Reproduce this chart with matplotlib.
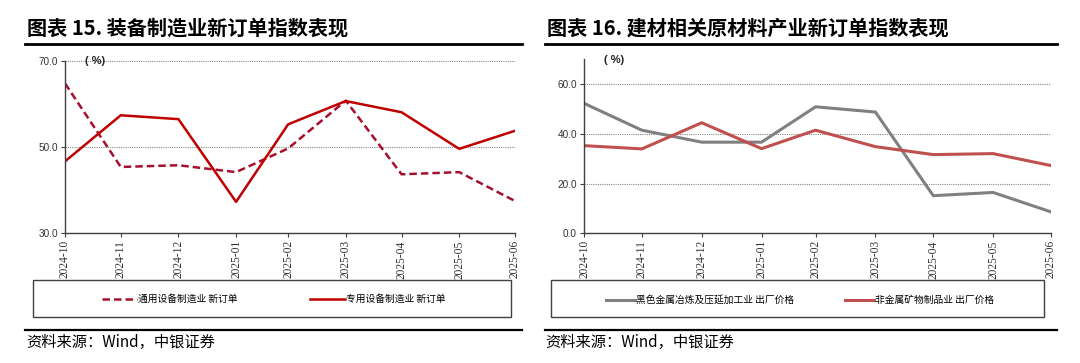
import numpy as np
import pandas as pd
import matplotlib
matplotlib.use("Agg")
import matplotlib.pyplot as plt
import matplotlib.dates as mdates
from matplotlib.lines import Line2D
from matplotlib.patches import Rectangle

plt.rcParams['font.family'] = ['Noto Sans CJK SC', 'DejaVu Sans']

# 月末日期
months = pd.date_range("2024-10-01", periods=9, freq="ME")

# 图表15 数据
general_equip = [64.8, 45.4, 45.8, 44.2, 49.7, 60.8, 43.7, 44.2, 37.5]   # 通用设备制造业 新订单
special_equip = [46.7, 57.4, 56.5, 37.3, 55.3, 60.7, 58.1, 49.6, 53.8]   # 专用设备制造业 新订单

# 图表16 数据
ferrous_price = [52.2, 41.4, 36.6, 36.6, 50.8, 48.7, 15.1, 16.4, 8.6]    # 黑色金属冶炼及压延加工业 出厂价格
nonmetal_price = [35.2, 33.9, 44.4, 34.0, 41.4, 34.8, 31.6, 32.0, 27.2]  # 非金属矿物制品业 出厂价格

title_left = "图表 15. 装备制造业新订单指数表现"
title_right = "图表 16. 建材相关原材料产业新订单指数表现"
source_text = "资料来源：Wind，中银证券"

W, H = 1080, 363
fig = plt.figure(figsize=(W / 100, H / 100), dpi=100)

def fx(px):
    return px / W

def fy(py):
    return (H - py) / H

spine_c = "#404040"

def style_axes(ax, yticks, ylim):
    ax.set_xlim(months[0], months[-1])
    ax.set_ylim(*ylim)
    ax.set_yticks(yticks)
    ax.set_yticklabels([f"{v:.1f}" for v in yticks], fontfamily="Liberation Sans", fontsize=7.2, color="#333333")
    ax.set_xticks(months)
    ax.xaxis.set_major_formatter(mdates.DateFormatter("%Y-%m"))
    for lab in ax.get_xticklabels():
        lab.set_rotation(90)
        lab.set_fontfamily("Liberation Serif")
        lab.set_fontsize(8.3)
        lab.set_color("#333333")
    ax.spines["top"].set_visible(False)
    ax.spines["right"].set_visible(False)
    for s in ("left", "bottom"):
        ax.spines[s].set_color(spine_c)
        ax.spines[s].set_linewidth(1.0)
    ax.tick_params(axis="both", direction="out", length=3, width=0.8, color=spine_c, pad=2)
    ax.yaxis.grid(True, linestyle=(0, (1, 1)), color="#888888", linewidth=0.8)
    ax.set_axisbelow(True)

# 左图
ax1 = fig.add_axes([fx(65), fy(233.3), fx(515) - fx(65), fy(61) - fy(233.3)])
l1, = ax1.plot(months, general_equip, color="#A5102C", lw=1.8, linestyle=(0, (3, 1.6)))
l2, = ax1.plot(months, special_equip, color="#C00000", lw=1.8)
style_axes(ax1, [30, 50, 70], (30, 70))
ax1.text(0.067, 1.0, "( %)", transform=ax1.transAxes, ha="center", va="center",
         fontfamily="Liberation Sans", fontsize=8, fontweight="bold", color="#222222")

# 右图
ax2 = fig.add_axes([fx(584), fy(233.3), fx(1051) - fx(584), fy(59) - fy(233.3)])
l3, = ax2.plot(months, ferrous_price, color="#808080", lw=2.2)
l4, = ax2.plot(months, nonmetal_price, color="#C0504D", lw=2.2)
style_axes(ax2, [0, 20, 40, 60], (0, 70))
ax2.text(0.064, 0.995, "( %)", transform=ax2.transAxes, ha="center", va="center",
         fontfamily="Liberation Sans", fontsize=8, fontweight="bold", color="#222222")

# 标题
fig.text(fx(27), fy(28), title_left, fontsize=14.5, fontweight="bold", va="center", ha="left")
fig.text(fx(547), fy(28), title_right, fontsize=14.5, fontweight="bold", va="center", ha="left")
for x0, x1 in ((25, 522), (545, 1057)):
    fig.add_artist(Line2D([fx(x0), fx(x1)], [fy(44), fy(44)], color="black", lw=2))
    fig.add_artist(Line2D([fx(x0), fx(x1)], [fy(329.5), fy(329.5)], color="black", lw=1.6))

# 图例框
for x0, x1 in ((33, 511), (551, 1044)):
    fig.add_artist(Rectangle((fx(x0), fy(317)), fx(x1) - fx(x0), fy(279.5) - fy(317),
                             transform=fig.transFigure, fill=False, edgecolor=spine_c, lw=1))

leg_kw = dict(loc="center", ncol=2, frameon=False, handletextpad=0.1,
              prop={"family": ["Noto Sans CJK SC", "DejaVu Sans"], "size": 7}, bbox_transform=fig.transFigure)
fig.legend([l1, l2], ["通用设备制造业 新订单", "专用设备制造业 新订单"],
           bbox_to_anchor=(fx(274), fy(299)), handlelength=3.6, columnspacing=7.5, **leg_kw)
fig.legend([l3, l4], ["黑色金属冶炼及压延加工业 出厂价格", "非金属矿物制品业 出厂价格"],
           bbox_to_anchor=(fx(800), fy(300)), handlelength=3.0, columnspacing=5.2, **leg_kw)

# 资料来源
fig.text(fx(26), fy(342), source_text, fontsize=11, style="italic", va="center", ha="left")
fig.text(fx(545), fy(342), source_text, fontsize=11, style="italic", va="center", ha="left")

fig.savefig("out.png", dpi=100)
